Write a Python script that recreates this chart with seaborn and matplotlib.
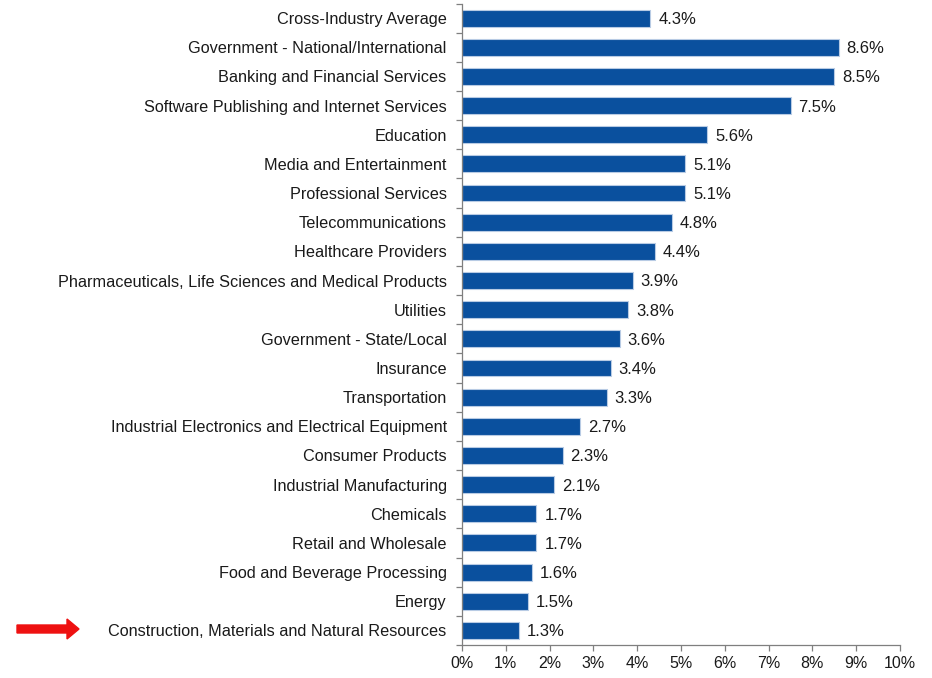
import matplotlib
matplotlib.use("Agg")
import matplotlib.pyplot as plt
import seaborn as sns
import pandas as pd
import numpy as np
from matplotlib.ticker import FixedLocator, PercentFormatter

categories = [
    "Cross-Industry Average",
    "Government - National/International",
    "Banking and Financial Services",
    "Software Publishing and Internet Services",
    "Education",
    "Media and Entertainment",
    "Professional Services",
    "Telecommunications",
    "Healthcare Providers",
    "Pharmaceuticals, Life Sciences and Medical Products",
    "Utilities",
    "Government - State/Local",
    "Insurance",
    "Transportation",
    "Industrial Electronics and Electrical Equipment",
    "Consumer Products",
    "Industrial Manufacturing",
    "Chemicals",
    "Retail and Wholesale",
    "Food and Beverage Processing",
    "Energy",
    "Construction, Materials and Natural Resources",
]
values = [4.3, 8.6, 8.5, 7.5, 5.6, 5.1, 5.1, 4.8, 4.4, 3.9, 3.8, 3.6, 3.4, 3.3,
          2.7, 2.3, 2.1, 1.7, 1.7, 1.6, 1.5, 1.3]
x_ticks = list(range(0, 11))

sns.set_theme(style="white")
plt.rcParams['font.family'] = ['Liberation Sans', 'DejaVu Sans']

df = pd.DataFrame({"industry": categories, "pct": values})

fig = plt.figure(figsize=(9.32, 6.78), dpi=100)
ax = fig.add_axes([462/932, 1-645/678, 438/932, (645-3.5)/678])

sns.barplot(data=df, y="industry", x="pct", orient="h", color="#0a509e",
            width=0.58, edgecolor="#b8cbe4", linewidth=0.8, ax=ax, saturation=1)

ax.set_xlim(0, 10)
ax.set_ylim(len(categories) - 0.5, -0.5)
ax.set_xlabel("")
ax.set_ylabel("")
ax.xaxis.set_major_locator(FixedLocator(x_ticks))
ax.xaxis.set_major_formatter(PercentFormatter(decimals=0))

for s in ["top", "right"]:
    ax.spines[s].set_visible(False)
for s in ["left", "bottom"]:
    ax.spines[s].set_color("#7f7f7f")
    ax.spines[s].set_linewidth(0.9)

ax.tick_params(axis="x", bottom=True, length=4, width=0.9, color="#7f7f7f",
               labelsize=11.5, labelcolor="#1a1a1a", pad=4)
ax.tick_params(axis="y", which="major", left=False, labelsize=11.7,
               labelcolor="#1a1a1a", pad=5)
ax.yaxis.set_minor_locator(FixedLocator(np.arange(-0.5, len(categories), 1.0)))
ax.tick_params(axis="y", which="minor", left=True, length=4, width=0.9,
               color="#7f7f7f")

for i, v in enumerate(values):
    ax.text(v + 0.18, i + 0.05, f"{v:.1f}%", va="center", ha="left", fontsize=12,
            color="#1a1a1a")

fig.patches.append(matplotlib.patches.FancyArrow(
    17/932, 1-629/678, 50/932, 0, width=8/678, head_width=20/678,
    head_length=12/932, length_includes_head=False, color="#ee1111",
    transform=fig.transFigure, figure=fig))

fig.savefig("out.png", dpi=100, facecolor="white")
